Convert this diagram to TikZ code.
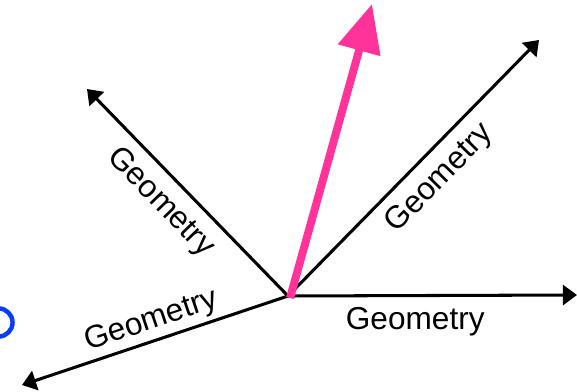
\documentclass[tikz,border=0pt]{standalone}
\usepackage{fontspec}
\setmainfont{Liberation Sans}
\usetikzlibrary{arrows.meta}
\definecolor{hotpink}{HTML}{FF3399}
\definecolor{markblue}{HTML}{0A3CFF}

\begin{document}
\begin{tikzpicture}[x=0.03cm,y=-0.03cm,
    axis/.style={line width=2.6pt,-{Triangle[length=12pt,width=17pt]}},
    geolabel/.style={font=\fontsize{27}{32}\selectfont,sloped,inner sep=2pt}]
  \useasboundingbox (0,0) rectangle (577,392);

  \coordinate (o) at (288,296);
  \coordinate (east) at (577,295);
  \coordinate (northeast) at (539,40);
  \coordinate (northwest) at (87,89);
  \coordinate (southwest) at (22,385);
  \coordinate (pinkfoot) at (290,298);
  \coordinate (pinktip) at (372,4);

  \draw[axis] (o) -- (east) node[geolabel,pos=0.44,below=7pt] {Geometry};
  \draw[axis] (o) -- (northeast) node[geolabel,pos=0.53,below=7pt] {Geometry};
  \draw[axis] (o) -- (northwest) node[geolabel,pos=0.54,below=7pt] {Geometry};
  \draw[axis] (o) -- (southwest) node[geolabel,pos=0.49,above=1pt] {Geometry};

  \draw[line width=6.8pt,color=hotpink,-{Triangle[length=41pt,width=36pt]}] (pinkfoot) -- (pinktip);

  %\draw (-1.5,322.5) circle
  \draw[markblue,line width=3.8pt] (-1.5,322.5) circle (12pt);
\end{tikzpicture}
\end{document}
